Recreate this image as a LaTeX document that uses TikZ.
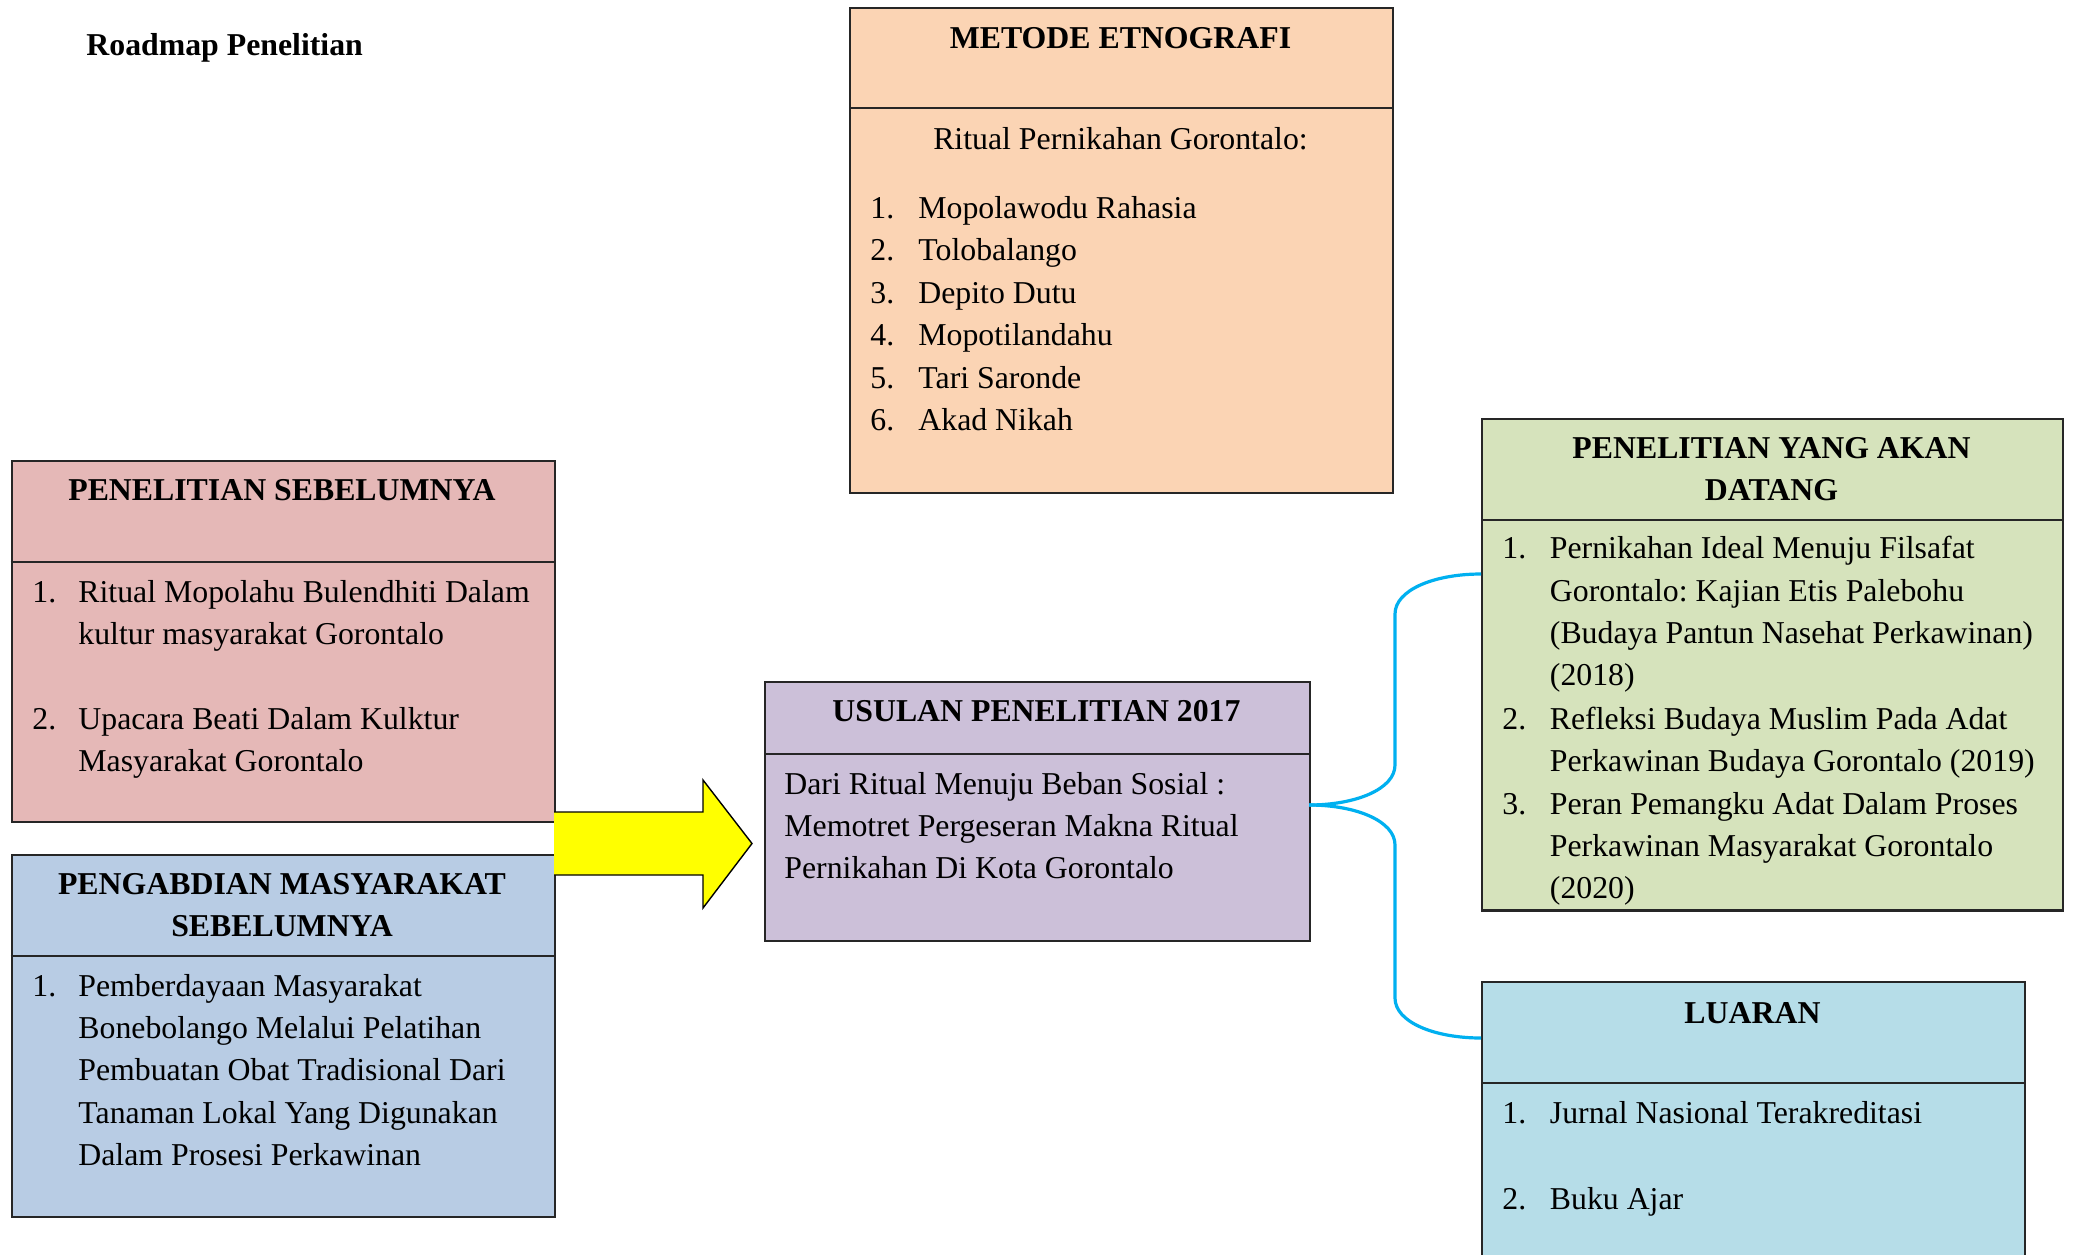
\documentclass[tikz,border=0pt]{standalone}
\usepackage{fontspec}
\setmainfont{Liberation Serif}
\frenchspacing
\definecolor{cMet}{HTML}{FBD4B4}
\definecolor{cPen}{HTML}{E5B8B7}
\definecolor{cAbd}{HTML}{B8CCE4}
\definecolor{cUsu}{HTML}{CCC0D9}
\definecolor{cAkan}{HTML}{D6E3BC}
\definecolor{cLua}{HTML}{B6DDE8}
\definecolor{linkblue}{HTML}{00B0F0}
\definecolor{arrowyellow}{HTML}{FFFF00}
\begin{document}
\begin{tikzpicture}[x=0.5pt,y=-0.5pt,
  boxframe/.style={draw=black!85, line width=1pt, inner sep=0pt, anchor=north west},
  sepline/.style={draw=black!85, line width=1pt},
  txt/.style={anchor=base west, inner sep=0pt, align=left, font=\fontsize{15.9}{21.2}\selectfont\frenchspacing},
  ttl/.style={anchor=base, inner sep=0pt, align=center, font=\fontsize{15.9}{21.4}\selectfont\bfseries},
  link/.style={draw=linkblue, line width=1.6pt}
]
\clip (0,0) rectangle (2073,1254);
\fill[white] (0,0) rectangle (2073,1254);

% title
\node[txt, font=\fontsize{15.9}{21.2}\selectfont\bfseries] (title) at (86,55) {Roadmap Penelitian};

% METODE ETNOGRAFI (multi-line nodes: base = last line)
\node[boxframe, fill=cMet, minimum width=(1392-849)*0.5pt, minimum height=(492-7)*0.5pt] (met) at (849,7) {};
\draw[sepline] (849,108) -- (1392,108);
\node[ttl] (metT) at (1120.5,48) {METODE ETNOGRAFI};
\node[ttl, font=\fontsize{15.9}{21.2}\selectfont] (metS) at (1120.5,149) {Ritual Pernikahan Gorontalo:};
\node[txt, font=\fontsize{15.9}{21.25}\selectfont] (metN) at (870,430.5) {1.\\2.\\3.\\4.\\5.\\6.};
\node[txt, font=\fontsize{15.9}{21.25}\selectfont] (metL) at (918,430.5) {Mopolawodu Rahasia\\Tolobalango\\Depito Dutu\\Mopotilandahu\\Tari Saronde\\Akad Nikah};

% PENELITIAN SEBELUMNYA
\node[boxframe, fill=cPen, minimum width=(554-10.5)*0.5pt, minimum height=(821-460)*0.5pt] (pen) at (10.5,460) {};
\draw[sepline] (10.5,562) -- (554,562);
\node[ttl] (penT) at (282,500) {PENELITIAN SEBELUMNYA};
\node[txt] (penN1) at (32,602) {1.};
\node[txt] (penL1) at (78,644.4) {Ritual Mopolahu Bulendhiti Dalam\\kultur masyarakat Gorontalo};
\node[txt] (penN2) at (32,729) {2.};
\node[txt] (penL2) at (78,771.4) {Upacara Beati Dalam Kulktur\\Masyarakat Gorontalo};

% PENGABDIAN MASYARAKAT SEBELUMNYA
\node[boxframe, fill=cAbd, minimum width=(554-10.5)*0.5pt, minimum height=(1216-854)*0.5pt] (abd) at (10.5,854) {};
\draw[sepline] (10.5,956) -- (554,956);
\node[ttl] (abdT) at (282,936.8) {PENGABDIAN MASYARAKAT\\SEBELUMNYA};
\node[txt] (abdN1) at (32,996) {1.};
\node[txt] (abdL1) at (78,1165.6) {Pemberdayaan Masyarakat\\Bonebolango Melalui Pelatihan\\Pembuatan Obat Tradisional Dari\\Tanaman Lokal Yang Digunakan\\Dalam Prosesi Perkawinan};

% USULAN PENELITIAN 2017
\node[boxframe, fill=cUsu, minimum width=(1309-764)*0.5pt, minimum height=(940-681)*0.5pt] (usu) at (764,681) {};
\draw[sepline] (764,753.5) -- (1309,753.5);
\node[ttl] (usuT) at (1036.5,721) {USULAN PENELITIAN 2017};
\node[txt] (usuL) at (784,878.8) {Dari Ritual Menuju Beban Sosial :\\Memotret Pergeseran Makna Ritual\\Pernikahan Di Kota Gorontalo};

% PENELITIAN YANG AKAN DATANG
\node[boxframe, fill=cAkan, minimum width=(2062-1481)*0.5pt, minimum height=(909.5-418)*0.5pt] (akan) at (1481,418) {};
\draw[sepline] (1481,519.5) -- (2062,519.5);
\node[ttl] (akanT) at (1771.5,500.8) {PENELITIAN YANG AKAN\\DATANG};
\begin{scope}
\clip (1481,519.5) rectangle (2062,906);
\node[txt] (akanN1) at (1502,558.6) {1.};
\node[txt] (akanL1) at (1549.5,685.8) {Pernikahan Ideal Menuju Filsafat\\Gorontalo: Kajian Etis Palebohu\\(Budaya Pantun Nasehat Perkawinan)\\(2018)};
\node[txt] (akanN2) at (1502,729) {2.};
\node[txt] (akanL2) at (1549.5,771.4) {Refleksi Budaya Muslim Pada Adat\\Perkawinan Budaya Gorontalo (2019)};
\node[txt] (akanN3) at (1502,814) {3.};
\node[txt] (akanL3) at (1549.5,898.8) {Peran Pemangku Adat Dalam Proses\\Perkawinan Masyarakat Gorontalo\\(2020)};
\end{scope}
\draw[sepline] (1481,909.5) -- (2062,909.5);

% LUARAN
\node[boxframe, fill=cLua, minimum width=(2024-1481)*0.5pt, minimum height=(1290-981)*0.5pt] (lua) at (1481,981) {};
\draw[sepline] (1481,1083) -- (2024,1083);
\node[ttl] (luaT) at (1752.5,1023) {LUARAN};
\node[txt] (luaN1) at (1502,1123) {1.};
\node[txt] (luaL1) at (1549.5,1123) {Jurnal Nasional Terakreditasi};
\node[txt] (luaN2) at (1502,1209) {2.};
\node[txt] (luaL2) at (1549.5,1209) {Buku Ajar};

% yellow block arrow
\fill[arrowyellow] (554,812) -- (703,812) -- (703,780) -- (752,843.5) -- (703,908) -- (703,875) -- (554,875) -- cycle;
\draw[black, line width=0.7pt, line join=miter] (554,812) -- (703,812) -- (703,780) -- (752,843.5) -- (703,908) -- (703,875) -- (554,875);

% blue brace connectors
\coordinate (usuOut) at (1309,805);
\coordinate (akanIn) at (1481,574);
\coordinate (luaIn) at (1481,1038);
\draw[link] (usuOut) .. controls (1356,805) and (1395,789) .. (1395,765) -- (1395,614) .. controls (1395,590) and (1434,574) .. (akanIn);
\draw[link] (usuOut) .. controls (1356,805) and (1395,821) .. (1395,845) -- (1395,998) .. controls (1395,1022) and (1434,1038) .. (luaIn);
\end{tikzpicture}
\end{document}
